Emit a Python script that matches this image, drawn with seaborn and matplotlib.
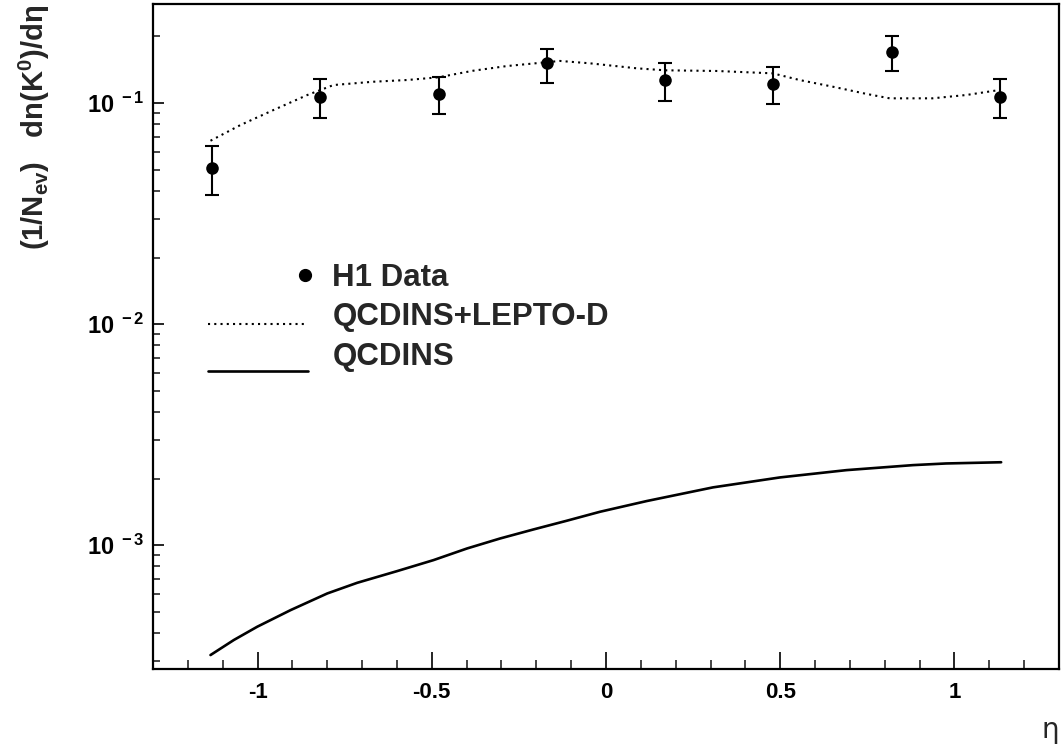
import numpy as np
import seaborn as sns
import matplotlib.pyplot as plt
from matplotlib.lines import Line2D
from matplotlib.ticker import LogLocator, MultipleLocator, NullFormatter
from matplotlib.legend_handler import HandlerLine2D
from matplotlib.transforms import Affine2D

# H1 data
eta_data = [-1.13, -0.82, -0.48, -0.17, 0.17, 0.48, 0.82, 1.13]
dn_data = [0.0508, 0.1065, 0.110, 0.152, 0.127, 0.122, 0.170, 0.1065]
dn_top = [0.0638, 0.1285, 0.131, 0.1754, 0.1517, 0.1456, 0.201, 0.1285]
dn_bot = [0.0384, 0.0855, 0.0892, 0.1232, 0.102, 0.099, 0.1396, 0.0855]

# QCDINS+LEPTO-D curve
eta_lepto = [-1.135, -1.049, -0.954, -0.857, -0.782, -0.668, -0.570, -0.481,
             -0.381, -0.284, -0.132, -0.046, 0.089, 0.169, 0.318, 0.479,
             0.556, 0.650, 0.748, 0.814, 0.937, 1.034, 1.129]
dn_lepto = [0.0675, 0.0795, 0.0930, 0.1087, 0.1206, 0.1248, 0.1271, 0.1307,
            0.1400, 0.147, 0.155, 0.1512, 0.1435, 0.1406, 0.1396, 0.1362,
            0.127, 0.1186, 0.1099, 0.105, 0.105, 0.1087, 0.1145]

# QCDINS curve
eta_qcdins = [-1.135, -1.068, -1.001, -0.905, -0.800, -0.714, -0.600, -0.495,
              -0.399, -0.304, -0.208, -0.113, -0.017, 0.117, 0.307, 0.499,
              0.690, 0.881, 0.976, 1.134]
dn_qcdins = [3.18e-4, 3.72e-4, 4.27e-4, 5.08e-4, 6.04e-4, 6.75e-4, 7.62e-4,
             8.55e-4, 9.65e-4, 1.071e-3, 1.177e-3, 1.288e-3, 1.415e-3,
             1.582e-3, 1.824e-3, 2.023e-3, 2.183e-3, 2.30e-3, 2.34e-3, 2.37e-3]

x_ticks = [-1, -0.5, 0, 0.5, 1]
x_tick_labels = ['-1', '-0.5', '0', '0.5', '1']
y_ticks = [1e-3, 1e-2, 1e-1]
y_tick_labels = [r'$10^{\ -3}$', r'$10^{\ -2}$', r'$10^{\ -1}$']


class ShiftedHandler(HandlerLine2D):
    # moves the legend symbol by (dx, dy) points
    def __init__(self, dx=0.0, dy=0.0, **kw):
        super().__init__(**kw)
        self.dx = dx
        self.dy = dy

    def create_artists(self, legend, orig_handle, xdescent, ydescent,
                       width, height, fontsize, trans):
        shift = Affine2D().translate(self.dx, self.dy)
        return super().create_artists(legend, orig_handle, xdescent, ydescent,
                                      width, height, fontsize, shift + trans)


sns.set_style('ticks')
plt.rcParams['font.family'] = ['Liberation Sans', 'DejaVu Sans']
plt.rcParams['font.weight'] = 'bold'
plt.rcParams['mathtext.fontset'] = 'custom'
plt.rcParams['mathtext.rm'] = 'Liberation Sans:bold'
plt.rcParams['mathtext.it'] = 'Liberation Sans:bold'
plt.rcParams['mathtext.bf'] = 'Liberation Sans:bold'
plt.rcParams['mathtext.default'] = 'rm'

fig, ax = plt.subplots(figsize=(10.62, 7.46), dpi=100)
fig.subplots_adjust(left=153 / 1062, right=1059 / 1062,
                    bottom=77 / 746, top=742 / 746)

ax.set_yscale('log')

sns.lineplot(x=eta_lepto, y=dn_lepto, ax=ax, color='black', lw=1.5,
             sort=False, estimator=None)
sns.lineplot(x=eta_qcdins, y=dn_qcdins, ax=ax, color='black', lw=1.9,
             sort=False, estimator=None)
line_lepto, line_qcd = ax.lines[0], ax.lines[1]
line_lepto.set_linestyle((0, (1, 2)))

yerr = [np.array(dn_data) - np.array(dn_bot), np.array(dn_top) - np.array(dn_data)]
ax.errorbar(eta_data, dn_data, yerr=yerr, fmt='none', ecolor='black',
            elinewidth=1.5, capsize=5, capthick=1.5)
sns.scatterplot(x=eta_data, y=dn_data, ax=ax, color='black', s=82,
                linewidth=0, zorder=5)

ax.set_xlim(-1.3, 1.3)
ax.set_ylim(2.75e-4, 0.2805)

ax.set_xticks(x_ticks, x_tick_labels)
ax.xaxis.set_minor_locator(MultipleLocator(0.1))
ax.set_yticks(y_ticks, y_tick_labels)
ax.yaxis.set_minor_locator(LogLocator(base=10, subs=np.arange(2, 10)))
ax.yaxis.set_minor_formatter(NullFormatter())

ax.tick_params(axis='x', which='major', direction='in', length=12, width=1.2,
               labelsize=16, pad=9, colors='black')
ax.tick_params(axis='x', which='minor', direction='in', length=6.5, width=1.2)
ax.tick_params(axis='y', which='major', direction='in', length=8, width=1.2,
               labelsize=17, pad=6, colors='black')
ax.tick_params(axis='y', which='minor', direction='in', length=5, width=1.2)
ax.tick_params(top=False, right=False, which='both')

for side in ['top', 'right', 'bottom', 'left']:
    ax.spines[side].set_visible(True)
    ax.spines[side].set_linewidth(1.6)
    ax.spines[side].set_color('black')

ax.set_xlabel('')
ax.set_ylabel('')

fig.text(34 / 1062, 1 - 5 / 746, r'(1/N$_{ev}$)   dn(K$^{0}$)/dη',
         rotation=90, ha='center', va='top', fontsize=21, fontweight='bold')
fig.text(1050 / 1062, 1 - 730 / 746, 'η', ha='center', va='center',
         fontsize=20, fontweight='normal', family=['DejaVu Sans'])

# legend, ROOT style
handle_length = 3.2
leg_size = 22.5
data_proxy = Line2D([], [], marker='o', ls='none', color='black', ms=8.5)
ax.legend(
    [data_proxy, line_lepto, line_qcd],
    ['H1 Data', 'QCDINS+LEPTO-D', 'QCDINS'],
    handler_map={
        data_proxy: ShiftedHandler(dx=handle_length * leg_size / 2 - 2),
        line_lepto: ShiftedHandler(dy=-7.2),
        line_qcd: ShiftedHandler(dy=-12.2),
    },
    loc='upper left', bbox_to_anchor=(208 / 1062, 1 - 263 / 746),
    bbox_transform=fig.transFigure, frameon=False, borderpad=0,
    borderaxespad=0, handlelength=handle_length,
    handletextpad=0.78, labelspacing=0.3,
    prop={'weight': 'bold', 'size': leg_size},
)

fig.savefig('out.png', dpi=100)
